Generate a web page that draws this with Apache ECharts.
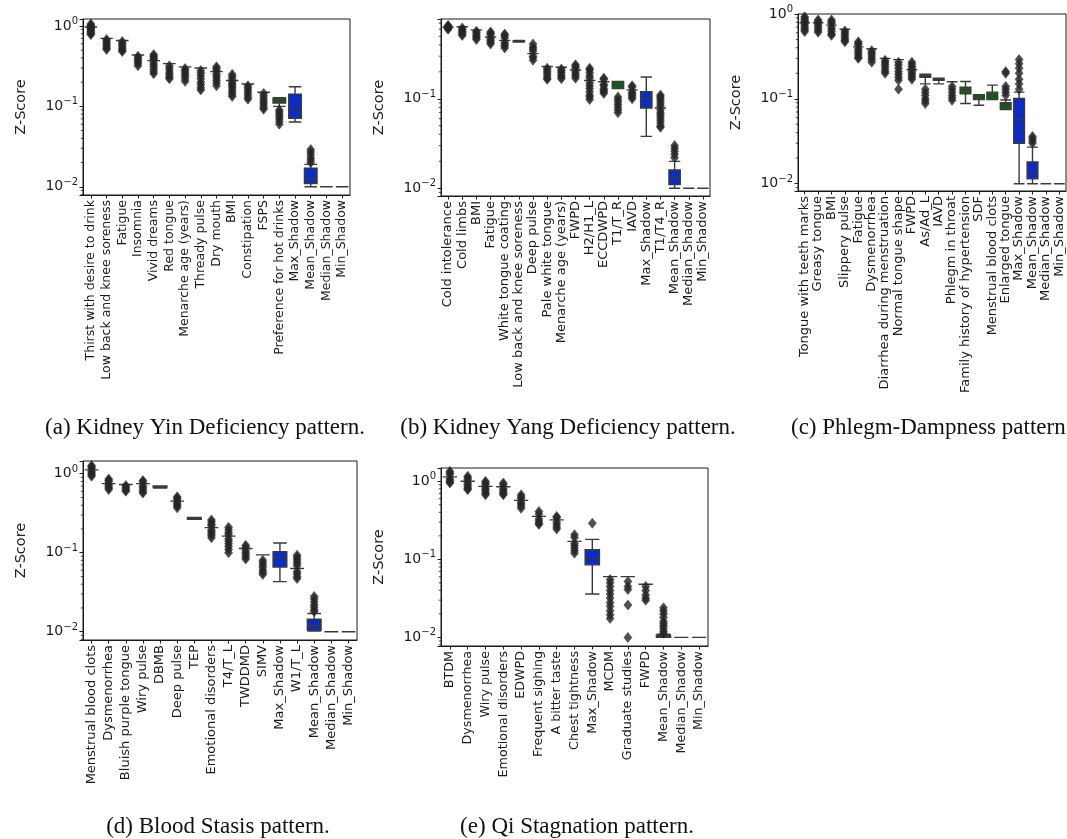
<!DOCTYPE html>
<html>
<head>
<meta charset="utf-8">
<script src="https://cdn.jsdelivr.net/npm/echarts@6/dist/echarts.min.js"></script>
<style>
html,body{margin:0;padding:0;background:#fff;}
#chart{width:1067px;height:839px;}
</style>
</head>
<body>
<div id="chart"></div>
<script>
// ---------- (a) Kidney Yin Deficiency ----------
const catsA = ['Thirst with desire to drink','Low back and knee soreness','Fatigue','Insomnia','Vivid dreams','Red tongue','Menarche age (years)','Thready pulse','Dry mouth','BMI','Constipation','FSPS','Preference for hot drinks','Max_Shadow','Mean_Shadow','Median_Shadow','Min_Shadow'];
const statusA = ['A','A','A','A','A','A','A','A','A','A','A','A','T','S','S','S','S'];
const boxA = [
  [0.97,0.97,0.97,0.97,0.97],[0.70,0.70,0.70,0.70,0.70],[0.66,0.66,0.66,0.66,0.66],[0.435,0.435,0.435,0.435,0.435],
  [0.37,0.37,0.37,0.37,0.37],[0.34,0.34,0.34,0.34,0.34],[0.31,0.31,0.31,0.31,0.31],[0.30,0.30,0.30,0.30,0.30],
  [0.27,0.27,0.27,0.27,0.27],[0.21,0.21,0.21,0.21,0.21],[0.19,0.19,0.19,0.19,0.19],[0.15,0.15,0.15,0.15,0.15],
  [0.10,0.110,0.118,0.126,0.128],[0.064,0.071,0.09,0.142,0.175],[0.010,0.011,0.0128,0.017,0.019],
  [0.01,0.01,0.01,0.01,0.01],[0.01,0.01,0.01,0.01,0.01]
];
const outA = [
  [1.06,1.02,0.99,0.95,0.92,0.89,0.86,0.83,0.80,0.78],
  [0.68,0.65,0.62,0.59,0.56,0.53,0.51],
  [0.64,0.61,0.58,0.55,0.52,0.50,0.48],
  [0.42,0.40,0.38,0.36,0.34,0.32],
  [0.44,0.42,0.40,0.385,0.35,0.33,0.31,0.29,0.27,0.255],
  [0.32,0.30,0.28,0.26,0.245,0.23,0.22],
  [0.295,0.28,0.265,0.25,0.235,0.22,0.205],
  [0.28,0.26,0.24,0.22,0.20,0.185,0.17,0.16],
  [0.31,0.295,0.28,0.255,0.24,0.225,0.21,0.195,0.18],
  [0.25,0.235,0.22,0.20,0.19,0.18,0.17,0.16,0.15,0.14,0.133],
  [0.18,0.17,0.16,0.15,0.14,0.13,0.123],
  [0.145,0.135,0.125,0.117,0.11,0.103,0.097,0.092],
  [0.09,0.085,0.08,0.075,0.07,0.065,0.06],
  [],
  [0.020,0.0215,0.023,0.025,0.027,0.029],
  [],[]
];

// ---------- (b) Kidney Yang Deficiency ----------
const catsB = ['Cold intolerance','Cold limbs','BMI','Fatigue','White tongue coating','Low back and knee soreness','Deep pulse','Pale white tongue','Menarche age (years)','FWPD','H2/H1_L','ECCDWPD','T1/T_R','IAVD','Max_Shadow','T1/T4_R','Mean_Shadow','Median_Shadow','Min_Shadow'];
const statusB = ['A','A','A','A','A','A','A','A','A','A','A','A','T','A','S','R','S','S','S'];
const boxB = [
  [0.63,0.63,0.63,0.63,0.63],[0.64,0.64,0.64,0.64,0.64],[0.59,0.59,0.59,0.59,0.59],[0.49,0.49,0.49,0.49,0.49],
  [0.45,0.45,0.45,0.45,0.45],[0.43,0.435,0.44,0.445,0.45],[0.32,0.32,0.32,0.32,0.32],[0.23,0.23,0.23,0.23,0.23],
  [0.225,0.225,0.225,0.225,0.225],[0.21,0.21,0.21,0.21,0.21],[0.16,0.16,0.16,0.16,0.16],[0.155,0.155,0.155,0.155,0.155],
  [0.13,0.13,0.14,0.156,0.156],[0.126,0.126,0.126,0.126,0.126],[0.038,0.079,0.10,0.12,0.175],
  [0.079,0.079,0.079,0.079,0.079],[0.01,0.011,0.0133,0.016,0.02],[0.01,0.01,0.01,0.01,0.01],[0.01,0.01,0.01,0.01,0.01]
];
const outB = [
  [0.66,0.65,0.64,0.62,0.61,0.60],
  [0.62,0.59,0.57,0.55,0.53,0.51],
  [0.57,0.55,0.52,0.50,0.48,0.46],
  [0.56,0.54,0.52,0.47,0.45,0.43,0.41],
  [0.53,0.51,0.48,0.43,0.41,0.39,0.37],
  [],
  [0.41,0.38,0.36,0.34,0.30,0.29,0.27],
  [0.22,0.21,0.20,0.19,0.18,0.17,0.165],
  [0.215,0.205,0.195,0.185,0.175,0.168],
  [0.24,0.23,0.22,0.20,0.19,0.18,0.17],
  [0.22,0.21,0.195,0.18,0.17,0.15,0.14,0.13,0.12,0.11,0.105,0.098],
  [0.17,0.165,0.145,0.14,0.13,0.125,0.12,0.115],
  [0.105,0.098,0.092,0.086,0.08,0.075,0.07],
  [0.14,0.135,0.12,0.115,0.11,0.105,0.1],
  [],
  [0.11,0.105,0.1,0.094,0.088,0.083,0.075,0.07,0.066,0.062,0.058,0.054,0.05,0.048],
  [0.022,0.024,0.026,0.028,0.030],
  [],[]
];

// ---------- (c) Phlegm-Dampness ----------
const catsC = ['Tongue with teeth marks','Greasy tongue','BMI','Slippery pulse','Fatigue','Dysmenorrhea','Diarrhea during menstruation','Normal tongue shape','FWPD','As/Ad_L','IAVD','Phlegm in throat','Family history of hypertension','SDF','Menstrual blood clots','Enlarged tongue','Max_Shadow','Mean_Shadow','Median_Shadow','Min_Shadow'];
const statusC = ['A','A','A','A','A','A','A','A','A','T','A','A','T','T','T','T','S','S','S','S'];
const boxC = [
  [0.79,0.79,0.79,0.79,0.79],[0.79,0.79,0.79,0.79,0.79],[0.74,0.74,0.74,0.74,0.74],[0.66,0.66,0.66,0.66,0.66],
  [0.41,0.41,0.41,0.41,0.41],[0.39,0.39,0.39,0.39,0.39],[0.30,0.30,0.30,0.30,0.30],[0.29,0.29,0.29,0.29,0.29],
  [0.22,0.22,0.22,0.22,0.22],[0.15,0.18,0.185,0.195,0.195],[0.15,0.165,0.17,0.175,0.175],[0.159,0.159,0.159,0.159,0.159],
  [0.088,0.115,0.128,0.137,0.16],[0.084,0.098,0.105,0.112,0.112],[0.098,0.098,0.109,0.12,0.145],[0.075,0.075,0.084,0.090,0.097],
  [0.01,0.03,0.057,0.101,0.12],[0.01,0.0114,0.0134,0.018,0.027],[0.01,0.01,0.01,0.01,0.01],[0.01,0.01,0.01,0.01,0.01]
];
const outC = [
  [0.93,0.89,0.85,0.82,0.76,0.72,0.68,0.65,0.62],
  [0.85,0.82,0.76,0.72,0.68,0.64,0.61],
  [0.85,0.81,0.78,0.70,0.66,0.62,0.58,0.56],
  [0.63,0.60,0.57,0.54,0.51,0.49,0.47],
  [0.47,0.45,0.43,0.39,0.37,0.35,0.33,0.31,0.30],
  [0.37,0.35,0.33,0.31,0.29,0.27],
  [0.285,0.27,0.255,0.24,0.225,0.21,0.20],
  [0.27,0.25,0.23,0.21,0.195,0.18,0.166,0.13],
  [0.27,0.255,0.24,0.23,0.21,0.20,0.19,0.18,0.17],
  [0.13,0.12,0.11,0.10,0.094,0.088],
  [],
  [0.14,0.13,0.12,0.11,0.103,0.096],
  [],[],[],
  [0.21,0.2,0.14,0.13,0.12,0.11],
  [0.13,0.15,0.17,0.2,0.23,0.26,0.29],
  [0.030,0.032,0.034,0.036],
  [],[]
];

// ---------- (d) Blood Stasis ----------
const catsD = ['Menstrual blood clots','Dysmenorrhea','Bluish purple tongue','Wiry pulse','DBMB','Deep pulse','TEP','Emotional disorders','T4/T_L','TWDDMD','SIMV','Max_Shadow','W1/T_L','Mean_Shadow','Median_Shadow','Min_Shadow'];
const statusD = ['A','A','A','A','A','A','A','A','A','A','A','S','R','S','S','S'];
const boxD = [
  [1.12,1.12,1.12,1.12,1.12],[0.75,0.75,0.75,0.75,0.75],[0.73,0.73,0.73,0.73,0.73],[0.75,0.75,0.75,0.75,0.75],
  [0.66,0.67,0.68,0.70,0.70],[0.45,0.45,0.45,0.45,0.45],[0.265,0.265,0.27,0.28,0.28],[0.208,0.208,0.208,0.208,0.208],
  [0.162,0.162,0.162,0.162,0.162],[0.113,0.113,0.113,0.113,0.113],[0.094,0.094,0.094,0.094,0.094],
  [0.043,0.066,0.085,0.103,0.133],[0.063,0.063,0.063,0.063,0.063],[0.0102,0.0105,0.012,0.0144,0.017],
  [0.01,0.01,0.01,0.01,0.01],[0.01,0.01,0.01,0.01,0.01]
];
const outD = [
  [1.27,1.22,1.17,1.07,1.02,0.97,0.93],
  [0.86,0.82,0.79,0.72,0.69,0.66,0.63],
  [0.71,0.68,0.65,0.62,0.60],
  [0.82,0.79,0.71,0.67,0.63,0.59,0.57],
  [],
  [0.51,0.49,0.47,0.43,0.41,0.39,0.37],
  [],
  [0.26,0.245,0.23,0.22,0.195,0.185,0.175,0.165,0.155],
  [0.21,0.195,0.18,0.17,0.15,0.14,0.13,0.12,0.11,0.10],
  [0.124,0.118,0.107,0.1,0.094,0.088,0.083],
  [0.08,0.075,0.07,0.065,0.06,0.056,0.053],
  [],
  [0.093,0.088,0.083,0.078,0.073,0.068,0.058,0.054,0.05,0.047],
  [0.018,0.019,0.0205,0.022,0.024,0.026,0.028],
  [],[]
];

// ---------- (e) Qi Stagnation ----------
const catsE = ['BTDM','Dysmenorrhea','Wiry pulse','Emotional disorders','EDWPD','Frequent sighing','A bitter taste','Chest tightness','Max_Shadow','MCDM','Graduate studies','FWPD','Mean_Shadow','Median_Shadow','Min_Shadow'];
const statusE = ['A','A','A','A','A','A','A','A','S','R','R','R','S','S','S'];
const boxE = [
  [1.14,1.14,1.14,1.14,1.14],[1.0,1.0,1.0,1.0,1.0],[0.86,0.86,0.86,0.86,0.86],[0.85,0.85,0.85,0.85,0.85],
  [0.57,0.57,0.57,0.57,0.57],[0.355,0.355,0.355,0.355,0.355],[0.32,0.32,0.32,0.32,0.32],[0.17,0.17,0.17,0.17,0.17],
  [0.036,0.085,0.1,0.133,0.18],[0.06,0.06,0.06,0.06,0.06],[0.06,0.06,0.06,0.06,0.06],[0.048,0.048,0.048,0.048,0.048],
  [0.01,0.01,0.0102,0.0106,0.011],[0.01,0.01,0.01,0.01,0.01],[0.01,0.01,0.01,0.01,0.01]
];
const outE = [
  [1.34,1.28,1.22,1.08,1.03,0.98,0.95],
  [1.16,1.1,1.05,0.95,0.9,0.85,0.81,0.78],
  [1.0,0.95,0.9,0.82,0.78,0.74,0.70,0.67],
  [0.95,0.9,0.80,0.76,0.72,0.69,0.67],
  [0.67,0.63,0.60,0.54,0.51,0.48,0.45],
  [0.41,0.38,0.33,0.31,0.29,0.28],
  [0.355,0.34,0.30,0.28,0.26,0.245],
  [0.207,0.19,0.16,0.15,0.14,0.13,0.12],
  [0.29],
  [0.055,0.05,0.045,0.04,0.036,0.032,0.028,0.025,0.022,0.0195,0.0175],
  [0.052,0.045,0.041,0.026,0.01],
  [0.045,0.04,0.035,0.032,0.03],
  [0.0113,0.012,0.013,0.014,0.015,0.016,0.018,0.02,0.022,0.024],
  [],[]
];

const captions = ['(a) Kidney Yin Deficiency pattern.','(b) Kidney Yang Deficiency pattern.','(c) Phlegm-Dampness pattern.','(d) Blood Stasis pattern.','(e) Qi Stagnation pattern.'];

// ---------- layout / style ----------
const panels = [
  {cats:catsA, status:statusA, box:boxA, out:outA, grid:{left:83,top:19,width:267,height:176}, yMin:0.0079, yMax:1.22, fs:12.5},
  {cats:catsB, status:statusB, box:boxB, out:outB, grid:{left:441,top:19,width:269,height:177}, yMin:0.0082, yMax:0.78, fs:13},
  {cats:catsC, status:statusC, box:boxC, out:outC, grid:{left:798,top:14,width:268,height:177}, yMin:0.0082, yMax:1.0, fs:13},
  {cats:catsD, status:statusD, box:boxD, out:outD, grid:{left:83,top:461,width:274,height:179}, yMin:0.00785, yMax:1.45, fs:13},
  {cats:catsE, status:statusE, box:boxE, out:outE, grid:{left:441,top:468,width:267,height:178}, yMin:0.00776, yMax:1.48, fs:12.7}
];
const fillFor = {A:'#2e2e2e', R:'#2e2e2e', T:'#0b640b', S:'#0a2cc4'};
const edge = '#3a3a3a';
const ink = '#1a1a1a';

function logLabel(v){
  const e = Math.log10(v), r = Math.round(e);
  if (Math.abs(e - r) > 1e-6) return '';
  return '{b|10}{s|' + (r < 0 ? '\u2212' + (-r) : r) + '}';
}

function minorTicks(params, api){
  const cs = params.coordSys, kids = [];
  for (let k = -3; k <= 1; k++) {
    for (let m = 2; m <= 9; m++) {
      const v = m * Math.pow(10, k);
      const y = api.coord([0, v])[1];
      if (y < cs.y - 0.5 || y > cs.y + cs.height + 0.5) continue;
      kids.push({type:'line', shape:{x1:cs.x - 2.2, y1:y, x2:cs.x, y2:y}, style:{stroke:ink, lineWidth:0.8}});
    }
  }
  return {type:'group', children:kids};
}

const grid = [], xAxis = [], yAxis = [], series = [];
panels.forEach((p, i) => {
  grid.push(Object.assign({show:true, borderColor:ink, borderWidth:1, backgroundColor:'transparent'}, p.grid));
  xAxis.push({
    type:'category', gridIndex:i, data:p.cats, boundaryGap:true,
    axisLine:{show:true, lineStyle:{color:ink, width:1}},
    axisTick:{show:true, alignWithLabel:true, length:3.5, lineStyle:{color:ink, width:1}},
    axisLabel:{interval:0, rotate:90, margin:5, fontFamily:'DejaVu Sans', fontSize:p.fs, color:ink},
    splitLine:{show:false}
  });
  yAxis.push({
    type:'log', logBase:10, gridIndex:i, min:p.yMin, max:p.yMax,
    name:'Z-Score', nameLocation:'middle', nameGap:54,
    nameTextStyle:{fontFamily:'DejaVu Sans', fontSize:14.5, color:'#222'},
    axisLine:{show:true, lineStyle:{color:ink, width:1}},
    axisTick:{show:true, length:3.5, lineStyle:{color:ink, width:1}},
    splitLine:{show:false},
    axisLabel:{
      formatter:logLabel, margin:5, color:ink,
      rich:{
        b:{fontFamily:'DejaVu Sans', fontSize:14, color:ink},
        s:{fontFamily:'DejaVu Sans', fontSize:10, color:ink, padding:[0,0,9,0]}
      }
    }
  });
  series.push({
    type:'boxplot', xAxisIndex:i, yAxisIndex:i, boxWidth:['80%','80%'],
    data:p.box.map((b, j) => ({value:b, itemStyle:{color:fillFor[p.status[j]], borderColor:edge, borderWidth:1.4}})),
    emphasis:{disabled:true}, z:2
  });
  const pts = [];
  p.out.forEach((arr, j) => arr.forEach(v => pts.push([j, v])));
  series.push({
    type:'scatter', xAxisIndex:i, yAxisIndex:i, symbol:'diamond', symbolSize:[8,10],
    itemStyle:{color:'#262626', borderColor:'#262626', borderWidth:0.6},
    data:pts, z:3, emphasis:{disabled:true}
  });
  series.push({
    type:'custom', xAxisIndex:i, yAxisIndex:i, renderItem:minorTicks, data:[[0, p.yMin]], silent:true, clip:false, z:1
  });
});

const capStyle = {fontFamily:'Liberation Serif', fontSize:23, fill:'#111', textVerticalAlign:'middle'};
const graphic = [
  {type:'text', x:205, y:428, style:Object.assign({text:captions[0], textAlign:'center'}, capStyle)},
  {type:'text', x:568, y:428, style:Object.assign({text:captions[1], textAlign:'center'}, capStyle)},
  {type:'text', x:791, y:428, style:Object.assign({text:captions[2], textAlign:'left'}, capStyle)},
  {type:'text', x:218, y:827, style:Object.assign({text:captions[3], textAlign:'center'}, capStyle)},
  {type:'text', x:577, y:827, style:Object.assign({text:captions[4], textAlign:'center'}, capStyle)}
];

const chart = echarts.init(document.getElementById('chart'), null, {renderer:'canvas'});
chart.setOption({
  animation:false, backgroundColor:'#fff',
  grid, xAxis, yAxis, series, graphic,
  tooltip:{show:false}
});
</script>
</body>
</html>
